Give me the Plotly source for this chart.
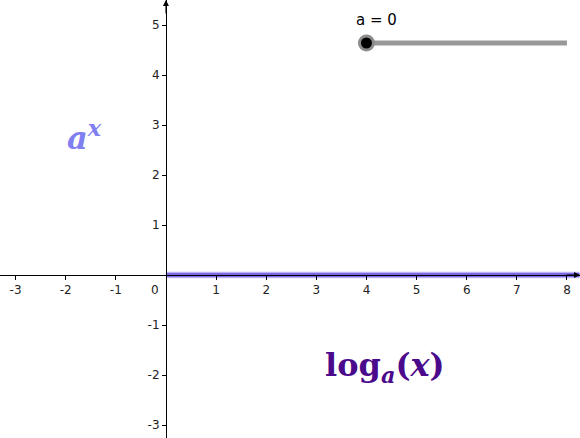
import plotly.graph_objects as go

# data
x_ticks = [-3, -2, -1, 1, 2, 3, 4, 5, 6, 7, 8]
y_ticks = [-3, -2, -1, 1, 2, 3, 4, 5]
curve_x = [0, 8.25]
curve_y = [0, 0]
slider_x = [4, 8]
slider_y = [4.64, 4.64]
a_value = 0

W, H = 580, 438
x_range = [-3.31, 8.26]
y_range = [-3.26, 5.5]
x_axis_pos = (0 - y_range[0]) / (y_range[1] - y_range[0])
y_axis_pos = (0 - x_range[0]) / (x_range[1] - x_range[0])


def fmt(v):
    return ("-" + str(-v)) if v < 0 else str(v)


fig = go.Figure()
# halo + line of the function
fig.add_trace(go.Scatter(x=curve_x, y=curve_y, mode="lines",
                         line=dict(color="rgba(170,155,242,0.75)", width=6.5),
                         hoverinfo="skip", showlegend=False))
fig.add_trace(go.Scatter(x=curve_x, y=curve_y, mode="lines",
                         line=dict(color="#7a68e4", width=4),
                         hoverinfo="skip", showlegend=False))
# slider
fig.add_trace(go.Scatter(x=slider_x, y=slider_y, mode="lines",
                         line=dict(color="#999999", width=5),
                         hoverinfo="skip", showlegend=False))
fig.add_trace(go.Scatter(x=[slider_x[0]], y=[slider_y[0]], mode="markers",
                         marker=dict(color="#000000", size=14,
                                     line=dict(color="#8c8c8c", width=3)),
                         hoverinfo="skip", showlegend=False))

tickfont = dict(family="DejaVu Sans", size=12, color="#222222")
fig.update_layout(
    width=W, height=H,
    margin=dict(l=0, r=0, t=0, b=0),
    paper_bgcolor="white", plot_bgcolor="white",
    xaxis=dict(range=x_range, showgrid=False, zeroline=False, automargin=False,
               showline=True, linecolor="#000000", linewidth=1,
               anchor="free", position=x_axis_pos,
               tickvals=x_ticks, ticktext=[fmt(v) for v in x_ticks],
               ticks="outside", ticklen=4, tickcolor="#000000",
               tickfont=tickfont),
    yaxis=dict(range=y_range, showgrid=False, zeroline=False, automargin=False,
               showline=True, linecolor="#000000", linewidth=1,
               anchor="free", position=y_axis_pos,
               tickvals=y_ticks, ticktext=[fmt(v) for v in y_ticks],
               ticks="outside", ticklen=4, tickcolor="#000000",
               tickfont=tickfont),
)

# origin label
fig.add_annotation(x=0, y=0, text="0", showarrow=False, xanchor="right", yanchor="top",
                   xshift=-5, yshift=-6, font=tickfont)
# axis arrowheads
fig.add_annotation(x=0, y=y_range[1], ax=0, ay=y_range[1] - 0.3, xref="x", yref="y",
                   axref="x", ayref="y", showarrow=True, arrowhead=2, arrowsize=1.2,
                   arrowwidth=1, arrowcolor="#000000", text="")
fig.add_annotation(x=x_range[1], y=0, ax=x_range[1] - 0.3, ay=0, xref="x", yref="y",
                   axref="x", ayref="y", showarrow=True, arrowhead=2, arrowsize=1.2,
                   arrowwidth=1, arrowcolor="#000000", text="")
# slider label
fig.add_annotation(x=slider_x[0], y=slider_y[0], text=f"a = {a_value}", showarrow=False,
                   xanchor="left", yanchor="bottom", xshift=-12, yshift=12,
                   font=dict(family="DejaVu Sans", size=15, color="#000000"))
# function labels
fig.add_annotation(x=-1.62, y=2.78, text="<b><i>a</i><sup><i>x</i></sup></b>", showarrow=False,
                   font=dict(family="DejaVu Serif", size=32, color="#8080f0"))
fig.add_annotation(x=4.37, y=-1.84, text="<b>log<sub><i>a</i></sub>(<i>x</i>)</b>", showarrow=False,
                   font=dict(family="DejaVu Serif", size=32, color="#4b0a8c"))

fig.write_html("out.html", config={"displayModeBar": False},
               post_script="document.body.style.margin='0';")
